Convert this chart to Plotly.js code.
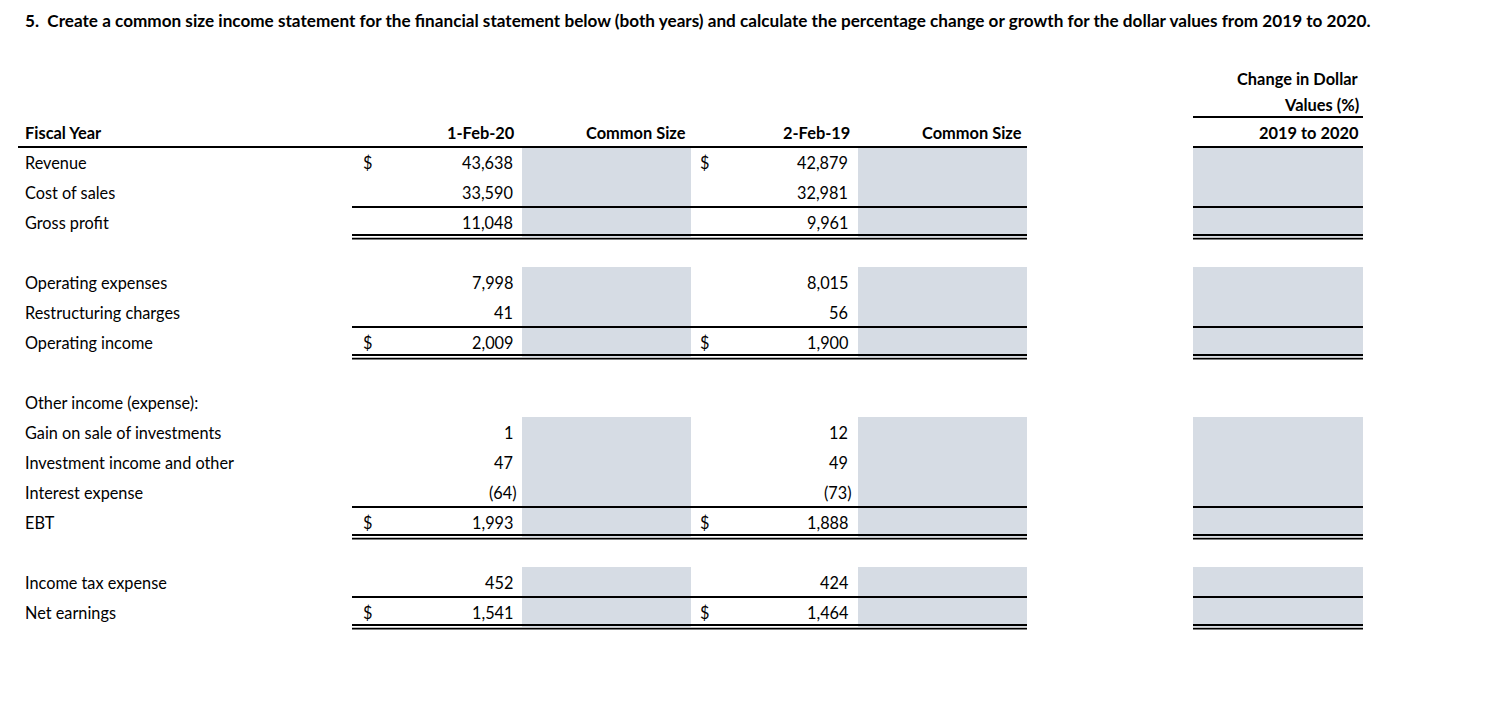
<!DOCTYPE html>
<html>
<head>
<meta charset="utf-8">
<script src="https://cdn.plot.ly/plotly-3.0.1.min.js"></script>
<style>html,body{margin:0;padding:0;background:#fff;}#chart{width:1512px;height:708px;}</style>
</head>
<body>
<div id="chart"></div>
<script>
// ---- data ----
var titleText = "5.  Create a common size income statement for the financial statement below (both years) and calculate the percentage change or growth for the dollar values from 2019 to 2020.";
var rowLabels = ["Revenue","Cost of sales","Gross profit","","Operating expenses","Restructuring charges","Operating income","","Other income (expense):","Gain on sale of investments","Investment income and other","Interest expense","EBT","","Income tax expense","Net earnings"];
var values2020 = [43638,33590,11048,null,7998,41,2009,null,null,1,47,-64,1993,null,452,1541];
var values2019 = [42879,32981,9961,null,8015,56,1900,null,null,12,49,-73,1888,null,424,1464];
var dollar2020 = [true,false,false,false,false,false,true,false,false,false,false,false,true,false,false,true];
var dollar2019 = [true,false,false,false,false,false,true,false,false,false,false,false,true,false,false,true];
var totalRows = [false,false,true,false,false,false,true,false,false,false,false,false,true,false,false,true];
var headerLabel = "Fiscal Year";
var colHeaders = ["1-Feb-20","Common Size","2-Feb-19","Common Size"];
var changeHeader = ["Change in Dollar","Values (%)","2019 to 2020"];

// ---- layout geometry (pixels / row units) ----
var FONT = "Lato, 'Open Sans', sans-serif";
var FS = 16.3, FSB = 16.4, FST = 17.15;
var labelX = 23;
var dollar1X = 361, num1X = 515, cs1 = [522, 691], csHead1X = 688;
var dollar2X = 698, num2X = 850, cs2 = [858, 1027], csHead2X = 1024;
var chg = [1193, 1363], chgHeadX = 1361;
var lineL = 352, lineR = 1027, headLineL = 18;
var SHADE = "#D6DCE4";

function fmt(v){
  var s = Math.abs(v).toLocaleString("en-US");
  return v < 0 ? "(" + s + ")" : s;
}

var ann = [];
var shapes = [];
// rows are placed at y = -r so the first row is at the top
function txt(x, r, t, anchor, bold, size){
  ann.push({xref:"x", yref:"y", x:x, y:-r, text: bold ? "<b>"+t+"</b>" : t, showarrow:false,
    xanchor:anchor, yanchor:"middle", font:{family:FONT, size:size||(bold?FSB:FS), color:"#000"}});
}
function hline(x0, x1, r, w){
  shapes.push({type:"line", xref:"x", yref:"y", x0:x0, x1:x1, y0:-r, y1:-r, line:{color:"#000", width:w}});
}
function rect(x0, x1, r0, r1){
  shapes.push({type:"rect", xref:"x", yref:"y", x0:x0, x1:x1, y0:-r0, y1:-r1, fillcolor:SHADE, line:{width:0}, layer:"below"});
}

// title
txt(labelX, -3.73, titleText, "left", true, FST);
// headers (row 0)
txt(labelX, 0, headerLabel, "left", true);
txt(num1X + 2, 0, colHeaders[0], "right", true);
txt(csHead1X, 0, colHeaders[1], "right", true);
txt(num2X + 2, 0, colHeaders[2], "right", true);
txt(csHead2X, 0, colHeaders[3], "right", true);
txt(chgHeadX, -1.8, changeHeader[0], "right", true);
txt(chgHeadX, -0.93, changeHeader[1], "right", true);
txt(chgHeadX, 0, changeHeader[2], "right", true);
hline(headLineL, lineR, 0.5, 2);
hline(chg[0], chg[1], 0.5, 2);
hline(chg[0], chg[1], -0.5, 2);

for (var i = 0; i < rowLabels.length; i++){
  var r = i + 1;
  if (rowLabels[i]) txt(labelX, r, rowLabels[i], "left", false);
  if (values2020[i] !== null){
    rect(cs1[0], cs1[1], r - 0.5, r + 0.5);
    rect(cs2[0], cs2[1], r - 0.5, r + 0.5);
    rect(chg[0], chg[1], r - 0.5, r + 0.5);
    txt(values2020[i] < 0 ? num1X + 4 : num1X, r, fmt(values2020[i]), "right", false);
    txt(values2019[i] < 0 ? num2X + 4 : num2X, r, fmt(values2019[i]), "right", false);
  }
  if (dollar2020[i]) txt(dollar1X, r, "$", "left", false);
  if (dollar2019[i]) txt(dollar2X, r, "$", "left", false);
  if (totalRows[i]){
    hline(lineL, lineR, r - 0.5, 2);
    hline(chg[0], chg[1], r - 0.5, 2);
    hline(lineL, lineR, r + 0.5 - 0.067, 1.8);
    hline(lineL, lineR, r + 0.5 + 0.057, 1.8);
    hline(chg[0], chg[1], r + 0.5 - 0.067, 1.8);
    hline(chg[0], chg[1], r + 0.5 + 0.057, 1.8);
  }
}

// pixel y = 132 + 30*r  ->  axis value -r
var topVal = 132/30, bottomVal = -(708-132)/30;
var layout = {
  width:1512, height:708,
  margin:{l:0, r:0, t:0, b:0, pad:0},
  paper_bgcolor:"#fff", plot_bgcolor:"#fff",
  showlegend:false,
  xaxis:{range:[0,1512], visible:false, fixedrange:true},
  yaxis:{range:[bottomVal, topVal], visible:false, fixedrange:true},
  annotations:ann, shapes:shapes
};
var traces = [{x:[0], y:[0], type:"scatter", mode:"markers", marker:{opacity:0}, hoverinfo:"skip"}];
Plotly.newPlot("chart", traces, layout, {staticPlot:true});
</script>
</body>
</html>
